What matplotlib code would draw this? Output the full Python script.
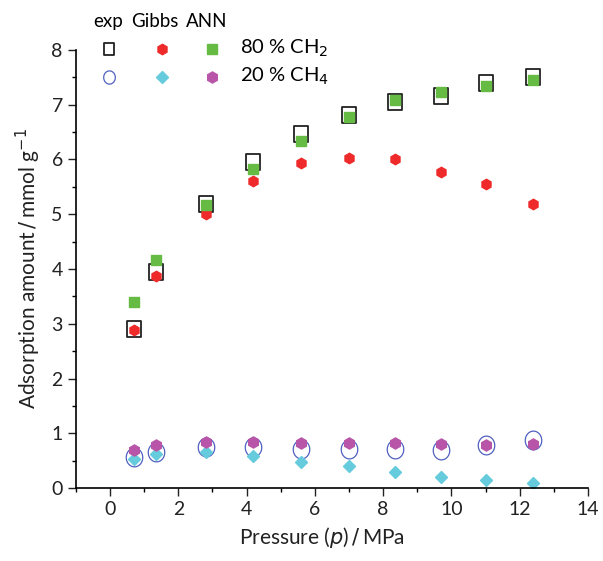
import numpy as np
import matplotlib
matplotlib.use("Agg")
from matplotlib import pyplot as plt
from matplotlib.path import Path

plt.rcParams['font.family'] = ['Lato', 'DejaVu Sans']

pressure = [0.7, 1.35, 2.8, 4.2, 5.6, 7.0, 8.35, 9.7, 11.0, 12.4]

exp80 = [2.9, 3.95, 5.18, 5.95, 6.47, 6.82, 7.05, 7.15, 7.4, 7.5]
gibbs80 = [2.88, 3.87, 5.0, 5.6, 5.93, 6.03, 6.0, 5.77, 5.56, 5.18]
ann80 = [3.4, 4.17, 5.17, 5.82, 6.33, 6.78, 7.08, 7.23, 7.35, 7.45]

exp20 = [0.56, 0.65, 0.75, 0.75, 0.72, 0.72, 0.72, 0.7, 0.78, 0.87]
gibbs20 = [0.53, 0.63, 0.65, 0.58, 0.47, 0.4, 0.3, 0.2, 0.15, 0.1]
ann20 = [0.7, 0.78, 0.85, 0.84, 0.82, 0.82, 0.82, 0.8, 0.78, 0.8]

red = '#ee2a2a'
green = '#66bb44'
cyan = '#66ccdd'
magenta = '#b855a8'
blue = '#5060c0'

# slightly tall box and ellipse markers like the original
box = Path([(-0.42, -0.5), (0.42, -0.5), (0.42, 0.5), (-0.42, 0.5), (-0.42, -0.5)],
           [Path.MOVETO, Path.LINETO, Path.LINETO, Path.LINETO, Path.CLOSEPOLY])
t = np.linspace(0, 2 * np.pi, 60)
ell = Path(np.column_stack([0.44 * np.cos(t), 0.5 * np.sin(t)]), closed=True)

fig = plt.figure(figsize=(6.03, 5.61), dpi=100)
ax = fig.add_axes([0.126, 0.130, 0.849, 0.781])

sq = dict(marker=box, ms=11.5, mfc='none', mec='#222222', mew=1.3, ls='none')
circ = dict(marker=ell, ms=13.5, mfc='none', mec=blue, mew=0.9, ls='none')
gb80 = dict(marker='h', ms=7.5, color=red, ls='none')
an80 = dict(marker='s', ms=6.5, color=green, ls='none')
gb20 = dict(marker='D', ms=6.5, color=cyan, ls='none')
an20 = dict(marker='h', ms=8, color=magenta, ls='none')

ax.plot(pressure, exp80, **sq)
ax.plot(pressure, gibbs80, **gb80)
ax.plot(pressure, ann80, **an80)
ax.plot(pressure, exp20, **circ)
ax.plot(pressure, gibbs20, **gb20)
ax.plot(pressure, ann20, **an20)

ax.set_xlim(-1, 14)
ax.set_ylim(0, 8)
ax.set_xticks(np.arange(0, 15, 2))
ax.set_xticks(np.arange(-1, 14.1, 1), minor=True)
ax.set_yticks(np.arange(0, 9, 1))
ax.set_yticks(np.arange(0, 8.1, 0.5), minor=True)
ax.tick_params(which='major', direction='out', length=6, width=1, labelsize=14, colors='#222222')
ax.tick_params(which='minor', direction='out', length=3, width=1)
for s in ['top', 'right']:
    ax.spines[s].set_visible(False)
for s in ['left', 'bottom']:
    ax.spines[s].set_linewidth(1.2)

ax.set_xlabel('Pressure ($p$)$\\,/\\,$MPa', fontsize=15, color='#222222', labelpad=8)
ax.xaxis.set_label_coords(0.48, -0.085)
ax.set_ylabel('Adsorption amount$\\,/\\,$mmol g$^{-1}$', fontsize=15, color='#222222', labelpad=6)

# custom legend
heads = ['exp', 'Gibbs', 'ANN']
head_x = [-0.06, 1.32, 2.84]
cols = [-0.03, 1.52, 3.0]
for x, h in zip(head_x, heads):
    ax.text(x, 8.51, h, ha='center', va='center', fontsize=13.5, clip_on=False)
row1, row2 = 8.02, 7.51
for x, st in zip(cols, [dict(sq, ms=8.5), gb80, an80]):
    ax.plot([x], [row1], clip_on=False, **st)
for x, st in zip(cols, [dict(circ, ms=9.5), gb20, an20]):
    ax.plot([x], [row2], clip_on=False, **st)
ax.text(3.8, row1, '80 % CH$_2$', va='center', fontsize=14.5)
ax.text(3.8, row2, '20 % CH$_4$', va='center', fontsize=14.5)

fig.savefig('out.png', dpi=100)
